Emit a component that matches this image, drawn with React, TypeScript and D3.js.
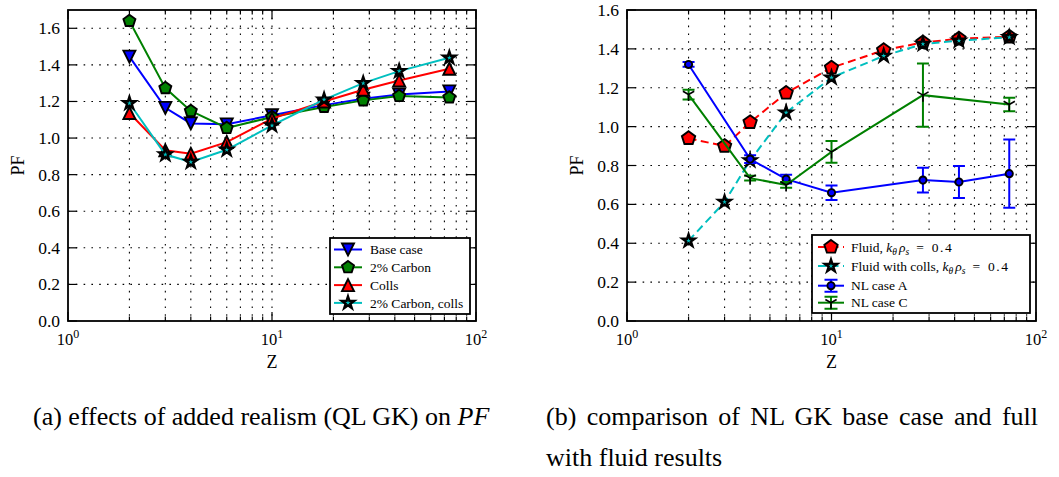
import React, { useEffect, useRef } from "react";
import * as d3 from "d3";

// Z values shared by the QL and fluid runs
const zValues = [2, 3, 4, 6, 10, 18, 28, 42, 74];

// (a) QL GK
const baseCase = [1.445, 1.165, 1.08, 1.075, 1.125, 1.18, 1.215, 1.238, 1.255];
const carbon = [1.64, 1.273, 1.148, 1.055, 1.115, 1.17, 1.206, 1.23, 1.222];
const colls = [1.137, 0.933, 0.914, 0.978, 1.106, 1.2, 1.264, 1.315, 1.379];
const carbonColls = [1.19, 0.91, 0.869, 0.936, 1.069, 1.21, 1.3, 1.366, 1.439];

// (b) NL GK vs fluid
const fluid = [0.94, 0.9, 1.022, 1.173, 1.303, 1.393, 1.433, 1.452, 1.462];
const fluidColls = [0.413, 0.612, 0.826, 1.072, 1.252, 1.364, 1.425, 1.442, 1.46];
const nlAZ = [2, 4, 6, 10, 28, 42, 74];
const nlA = [1.32, 0.833, 0.73, 0.66, 0.725, 0.715, 0.758];
const nlAErr = [0.012, 0.02, 0.022, 0.037, 0.064, 0.082, 0.176];
const nlCZ = [2, 4, 6, 10, 28, 74];
const nlC = [1.165, 0.735, 0.7, 0.87, 1.162, 1.114];
const nlCErr = [0.025, 0.012, 0.015, 0.056, 0.163, 0.035];

const leftYTicks = [0, 0.2, 0.4, 0.6, 0.8, 1.0, 1.2, 1.4, 1.6];
const rightYTicks = [0, 0.2, 0.4, 0.6, 0.8, 1.0, 1.2, 1.4, 1.6];
const xTickExps = [0, 1, 2];

const captionA = "(a) effects of added realism (QL GK) on ";
const captionB1 = "(b) comparison of NL GK base case and full";
const captionB2 = "with fluid results";

const font = "Liberation Serif, DejaVu Serif, serif";

//marker outlines, matplotlib style
const markerPath = (kind: string, r: number) => {
  if (kind === "triDown") return `M${-r},${-r}L${r},${-r}L0,${r}Z`;
  if (kind === "triUp") return `M0,${-r}L${r},${r}L${-r},${r}Z`;
  if (kind === "pentagon") {
    const pts = d3.range(5).map((i) => {
      const a = -Math.PI / 2 + (i * 2 * Math.PI) / 5;
      return [r * Math.cos(a), r * Math.sin(a)];
    });
    return "M" + pts.map((p) => p.join(",")).join("L") + "Z";
  }
  if (kind === "star") {
    const pts = d3.range(10).map((i) => {
      const a = -Math.PI / 2 + (i * Math.PI) / 5;
      const rr = i % 2 === 0 ? r : r * 0.382;
      return [rr * Math.cos(a), rr * Math.sin(a)];
    });
    return "M" + pts.map((p) => p.join(",")).join("L") + "Z";
  }
  if (kind === "circle") return d3.symbol(d3.symbolCircle, Math.PI * r * r)() || "";
  // tri_down "1"
  return `M0,0V${r}M0,0L${-0.866 * r},${-0.5 * r}M0,0L${0.866 * r},${-0.5 * r}`;
};

const edgeWidth = (kind: string) => (kind === "star" ? 2.4 : kind === "tri1" ? 1.6 : 1.9);

const App = () => {
  const svgRef = useRef<SVGSVGElement>(null);
  const w = 1059;
  const h = 477;

  useEffect(() => {
    const svg = d3.select(svgRef.current);
    svg.selectAll("*").remove();

    const top = 10;
    const bottom = 321;

    const drawPanel = (left: number, right: number, yMax: number, yTicks: number[]) => {
      const g = svg.append("g");
      const x = d3.scaleLog().domain([1, 100]).range([left, right]);
      const y = d3.scaleLinear().domain([0, yMax]).range([bottom, top]);
      const allX = x.ticks();
      const minorX = allX.filter((t) => ![1, 10, 100].includes(t));
      const majorX = xTickExps.map((e) => Math.pow(10, e));

      //dotted grid
      g.selectAll(null)
        .data(allX.filter((t) => t > 1 && t < 100))
        .join("line")
        .attr("x1", (d) => x(d))
        .attr("x2", (d) => x(d))
        .attr("y1", top)
        .attr("y2", bottom)
        .attr("stroke", "#000")
        .attr("stroke-width", 1.1)
        .attr("stroke-dasharray", "1.6,6.2");
      g.selectAll(null)
        .data(yTicks.filter((t) => t > 0 && t < yMax))
        .join("line")
        .attr("x1", left)
        .attr("x2", right)
        .attr("y1", (d) => y(d))
        .attr("y2", (d) => y(d))
        .attr("stroke", "#000")
        .attr("stroke-width", 1.1)
        .attr("stroke-dasharray", "1.6,6.2");

      //ticks inside, all four sides
      const tickG = g.append("g").attr("stroke", "#000").attr("stroke-width", 1.2);
      yTicks.forEach((t) => {
        tickG.append("line").attr("x1", left).attr("x2", left + 9).attr("y1", y(t)).attr("y2", y(t));
        tickG.append("line").attr("x1", right).attr("x2", right - 9).attr("y1", y(t)).attr("y2", y(t));
      });
      majorX.forEach((t) => {
        tickG.append("line").attr("x1", x(t)).attr("x2", x(t)).attr("y1", bottom).attr("y2", bottom - 9);
        tickG.append("line").attr("x1", x(t)).attr("x2", x(t)).attr("y1", top).attr("y2", top + 9);
      });
      minorX.forEach((t) => {
        tickG.append("line").attr("x1", x(t)).attr("x2", x(t)).attr("y1", bottom).attr("y2", bottom - 4.5);
        tickG.append("line").attr("x1", x(t)).attr("x2", x(t)).attr("y1", top).attr("y2", top + 4.5);
      });

      //tick labels
      g.selectAll(null)
        .data(yTicks)
        .join("text")
        .attr("x", left - 8)
        .attr("y", (d) => y(d) + 6)
        .attr("text-anchor", "end")
        .style("font-family", font)
        .attr("font-size", 17.5)
        .text((d) => d.toFixed(1));
      xTickExps.forEach((e) => {
        const t = g
          .append("text")
          .attr("x", x(Math.pow(10, e)))
          .attr("y", bottom + 24)
          .attr("text-anchor", "middle")
          .style("font-family", font)
          .attr("font-size", 16.5);
        t.append("tspan").text("10");
        t.append("tspan").attr("dy", -7).attr("font-size", 12).text(String(e));
      });

      //axis labels
      g.append("text")
        .attr("x", (left + right) / 2)
        .attr("y", 368)
        .attr("text-anchor", "middle")
        .style("font-family", font)
        .attr("font-size", 18)
        .text("Z");
      g.append("text")
        .attr("transform", `translate(${left - 44},${(top + bottom) / 2}) rotate(-90)`)
        .attr("text-anchor", "middle")
        .style("font-family", font)
        .attr("font-size", 18)
        .text("PF");

      return { g, x, y };
    };

    const drawSeries = (g: any, x: any, y: any, s: any) => {
      const pts = d3.zip(s.z, s.v) as [number, number][];
      if (s.err) {
        const rows = d3.zip(s.z, s.v, s.err) as [number, number, number][];
        g.selectAll(null)
          .data(rows)
          .join("path")
          .attr("d", ([zz, vv, ee]: number[]) => {
            const cx = x(zz);
            return `M${cx},${y(vv - ee)}V${y(vv + ee)}M${cx - 6},${y(vv - ee)}h12M${cx - 6},${y(vv + ee)}h12`;
          })
          .attr("fill", "none")
          .attr("stroke", s.color)
          .attr("stroke-width", 2);
      }
      const line = d3
        .line<[number, number]>()
        .x((d) => x(d[0]))
        .y((d) => y(d[1]));
      g.append("path")
        .attr("d", line(pts))
        .attr("fill", "none")
        .attr("stroke", s.color)
        .attr("stroke-width", 2)
        .attr("stroke-dasharray", s.dash ? "8,4.5" : null);
      g.selectAll(null)
        .data(pts)
        .join("path")
        .attr("transform", (d: number[]) => `translate(${x(d[0])},${y(d[1])})`)
        .attr("d", markerPath(s.marker, s.r))
        .attr("fill", s.marker === "tri1" ? "none" : s.color)
        .attr("stroke", "#000")
        .attr("stroke-width", edgeWidth(s.marker))
        .attr("stroke-linejoin", "miter");
    };

    const legendHandle = (g: any, s: any, x0: number, x1: number, cy: number) => {
      const cx = (x0 + x1) / 2;
      if (s.err) {
        g.append("path")
          .attr("d", `M${cx},${cy - 6}V${cy + 6}M${cx - 6.5},${cy - 6}h13M${cx - 6.5},${cy + 6}h13`)
          .attr("fill", "none")
          .attr("stroke", s.color)
          .attr("stroke-width", 2);
      }
      g.append("line")
        .attr("x1", x0)
        .attr("x2", x1)
        .attr("y1", cy)
        .attr("y2", cy)
        .attr("stroke", s.color)
        .attr("stroke-width", 2)
        .attr("stroke-dasharray", s.dash ? "8,4.5" : null);
      g.append("path")
        .attr("transform", `translate(${cx},${cy})`)
        .attr("d", markerPath(s.marker, s.r))
        .attr("fill", s.marker === "tri1" ? "none" : s.color)
        .attr("stroke", "#000")
        .attr("stroke-width", edgeWidth(s.marker));
    };

    const frame = (g: any, left: number, right: number) => {
      g.append("rect")
        .attr("x", left)
        .attr("y", top)
        .attr("width", right - left)
        .attr("height", bottom - top)
        .attr("fill", "none")
        .attr("stroke", "#000")
        .attr("stroke-width", 1.8);
    };

    // ---- panel (a)
    const leftSeries = [
      { name: "Base case", z: zValues, v: baseCase, color: "#0000ff", marker: "triDown", r: 6 },
      { name: "2% Carbon", z: zValues, v: carbon, color: "#008000", marker: "pentagon", r: 6.3 },
      { name: "Colls", z: zValues, v: colls, color: "#ff0000", marker: "triUp", r: 6 },
      { name: "2% Carbon, colls", z: zValues, v: carbonColls, color: "#00bfbf", marker: "star", r: 6.4 },
    ];
    const a = drawPanel(68, 476, 1.7, leftYTicks);
    leftSeries.forEach((s) => drawSeries(a.g, a.x, a.y, s));
    frame(a.g, 68, 476);

    const legA = a.g.append("g");
    legA.append("rect")
      .attr("x", 330)
      .attr("y", 238)
      .attr("width", 140)
      .attr("height", 76)
      .attr("fill", "#fff")
      .attr("stroke", "#000")
      .attr("stroke-width", 1.8);
    leftSeries.forEach((s, i) => {
      const cy = 249.5 + i * 17.8;
      legendHandle(legA, s, 334, 362, cy);
      legA.append("text")
        .attr("x", 370)
        .attr("y", cy + 4.6)
        .style("font-family", font)
        .attr("font-size", 13.5)
        .text(s.name);
    });

    // ---- panel (b)
    const rightSeries = [
      { name: "Fluid, ", z: zValues, v: fluid, color: "#ff0000", marker: "pentagon", r: 7, dash: true, math: true },
      { name: "Fluid with colls, ", z: zValues, v: fluidColls, color: "#00bfbf", marker: "star", r: 6.4, dash: true, math: true },
      { name: "NL case A", z: nlAZ, v: nlA, err: nlAErr, color: "#0000ff", marker: "circle", r: 3.6 },
      { name: "NL case C", z: nlCZ, v: nlC, err: nlCErr, color: "#008000", marker: "tri1", r: 6.5 },
    ];
    const b = drawPanel(627, 1036, 1.6, rightYTicks);
    rightSeries.forEach((s) => drawSeries(b.g, b.x, b.y, s));
    frame(b.g, 627, 1036);

    const legB = b.g.append("g");
    legB.append("rect")
      .attr("x", 812)
      .attr("y", 235)
      .attr("width", 218)
      .attr("height", 78)
      .attr("fill", "#fff")
      .attr("stroke", "#000")
      .attr("stroke-width", 1.8);
    const rowsB = [247, 266, 285.7, 302.7];
    rightSeries.forEach((s, i) => {
      const cy = rowsB[i];
      legendHandle(legB, s, 818, 844, cy);
      const t = legB.append("text")
        .attr("x", 851)
        .attr("y", cy + 4.6)
        .style("font-family", font)
        .attr("font-size", 13.5);
      t.append("tspan").text(s.name);
      if (s.math) {
        t.append("tspan").attr("font-style", "italic").text("k");
        t.append("tspan").attr("font-style", "italic").attr("font-size", 9.5).attr("dy", 3).text("θ");
        t.append("tspan").attr("font-style", "italic").attr("dx", 2).attr("dy", -3).text("ρ");
        t.append("tspan").attr("font-style", "italic").attr("font-size", 9.5).attr("dy", 3).text("s");
        t.append("tspan").attr("dx", 7).attr("dy", -3).text("=");
        t.append("tspan").attr("dx", 8).attr("letter-spacing", 1.5).text("0.4");
      }
    });

    // ---- captions
    const cap = svg.append("g").style("font-family", font).attr("font-size", 26);
    const ta = cap.append("text").attr("x", 33).attr("y", 425);
    ta.append("tspan").text(captionA);
    ta.append("tspan").attr("font-style", "italic").text("PF");

    const tb = cap.append("text").attr("x", 546).attr("y", 425).text(captionB1);
    const natural = (tb.node() as SVGTextElement).getComputedTextLength();
    const spaces = captionB1.split(" ").length - 1;
    tb.attr("word-spacing", Math.max(0, (1038 - 546 - natural) / spaces));
    cap.append("text").attr("x", 546).attr("y", 466).text(captionB2);
  }, []);

  return (
    <svg
      ref={svgRef}
      width={w}
      height={h}
      style={{ position: "absolute", left: 0, top: 0, background: "#fff" }}
    />
  );
};

export default App;
